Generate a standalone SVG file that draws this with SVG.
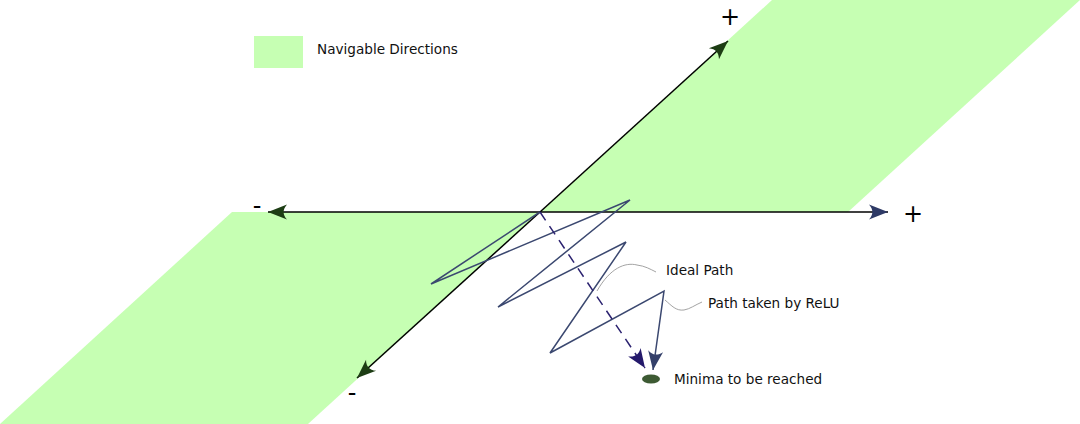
<svg xmlns="http://www.w3.org/2000/svg" width="1080" height="424" viewBox="0 0 1080 424">
<style>
.region{fill:#c6ffb3;stroke:none}
.axis{stroke:#000;stroke-width:1.5;fill:none}
.relu{stroke:#3b4870;stroke-width:1.5;fill:none;stroke-linejoin:miter}
.ideal{stroke:#2b2270;stroke-width:1.5;fill:none;stroke-dasharray:10,7}
.leader{stroke:#999;stroke-width:0.9;fill:none}
.lbl{font-family:"DejaVu Sans",sans-serif;font-size:13.6px;fill:#111}
.sign{font-family:"DejaVu Sans",sans-serif;font-size:24px;fill:#000}
</style>
<defs>
<marker id="ahG" markerUnits="userSpaceOnUse" markerWidth="24" markerHeight="16" viewBox="-20 -8 22 16" refX="0" refY="0" orient="auto"><path d="M0,0 L-19,-7.5 C-14.5,-2.5 -14.5,2.5 -19,7.5 Z" fill="#1d3d14"/></marker>
<marker id="ahB" markerUnits="userSpaceOnUse" markerWidth="24" markerHeight="16" viewBox="-20 -8 22 16" refX="0" refY="0" orient="auto"><path d="M0,0 L-19,-7.5 C-14.5,-2.5 -14.5,2.5 -19,7.5 Z" fill="#2e3a66"/></marker>
<marker id="ahI" markerUnits="userSpaceOnUse" markerWidth="24" markerHeight="16" viewBox="-20 -8 22 16" refX="0" refY="0" orient="auto"><path d="M0,0 L-19,-7.5 C-14.5,-2.5 -14.5,2.5 -19,7.5 Z" fill="#24196b"/></marker>
<marker id="ahR" markerUnits="userSpaceOnUse" markerWidth="24" markerHeight="16" viewBox="-20 -8 22 16" refX="0" refY="0" orient="auto"><path d="M0,0 L-19,-7.5 C-14.5,-2.5 -14.5,2.5 -19,7.5 Z" fill="#34406a"/></marker>
</defs>
<g id="regions">
<polygon class="region" points="772,0 1080,0 848,212 540,212"/>
<polygon class="region" points="232,212 540,212 308,424 0,424"/>
</g>
<g id="legend">
<rect class="region" x="254" y="36" width="49" height="32"/>
<text class="lbl" x="317" y="54">Navigable Directions</text>
</g>
<g id="connectors">
<line class="axis" x1="540" y1="212" x2="728" y2="41" marker-end="url(#ahG)"/>
<line class="axis" x1="540" y1="212" x2="357" y2="378" marker-end="url(#ahG)"/>
<line class="axis" x1="540" y1="212" x2="268" y2="212" marker-end="url(#ahG)"/>
<line class="axis" x1="540" y1="212" x2="888" y2="212" marker-end="url(#ahB)"/>
<polyline class="relu" points="540,212 431,284 630,200 498,307 626,242 550,353 664,291 653,370" marker-end="url(#ahR)"/>
<line class="ideal" x1="540" y1="212" x2="645" y2="368" marker-end="url(#ahI)"/>
<path class="leader" d="M597,291 C610,268 625,262 637,265 C645,266 650,269 656,272"/>
<path class="leader" d="M665,300 C672,306 676,311 684,310 C690,309 695,305 702,302"/>
</g>
<g id="signs">
<text class="sign" x="730" y="25" text-anchor="middle">+</text>
<text class="sign" x="913" y="222" text-anchor="middle">+</text>
<text class="sign" x="257" y="214" text-anchor="middle">-</text>
<text class="sign" x="352" y="401" text-anchor="middle">-</text>
</g>
<g id="labels">
<text class="lbl" x="666" y="275">Ideal Path</text>
<text class="lbl" x="708" y="308">Path taken by ReLU</text>
</g>
<g id="minima">
<ellipse cx="651" cy="379" rx="9" ry="4.5" fill="#3d5a33"/>
<text class="lbl" x="674" y="384">Minima to be reached</text>
</g>
</svg>
